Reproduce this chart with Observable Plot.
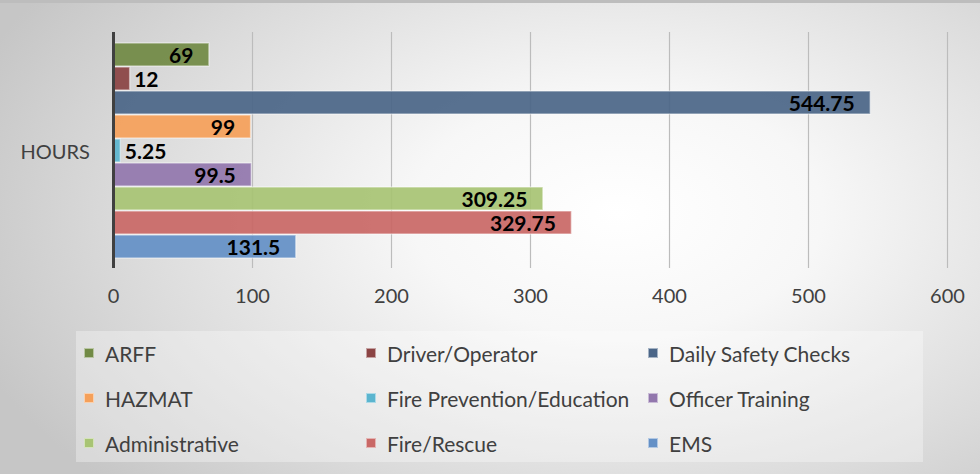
<!DOCTYPE html>
<html>
<head>
<meta charset="utf-8">
<script src="https://cdn.jsdelivr.net/npm/d3@7"></script>
<script src="https://cdn.jsdelivr.net/npm/@observablehq/plot@0.6"></script>
<style>
  html, body { margin: 0; padding: 0; }
  #wrap {
    position: relative; width: 980px; height: 474px; overflow: hidden;
    background: radial-gradient(ellipse 70% 85% at 63% 45%, #ffffff 0%, #f7f7f7 30%, #dcdcdc 70%, #c6c6c6 100%);
    font-family: Lato, sans-serif;
  }
  #topbar { position: absolute; left: 0; top: 0; width: 980px; height: 3px; background: #bdbdbd; }
  #chart { position: absolute; left: 0; top: 0; }
  #legend {
    position: absolute; left: 76px; top: 331px; width: 847px; height: 131px;
    background: rgba(255,255,255,0.32);
  }
  .item { position: absolute; display: flex; align-items: center; font-size: 21px; color: #404040; white-space: nowrap; }
  .sw { width: 10px; height: 10px; margin-right: 11px; box-sizing: border-box; border: 1px solid rgba(255,255,255,0.5); }
</style>
</head>
<body>
<div id="wrap"><div id="topbar"></div><div id="chart"></div><div id="legend"></div></div>
<script>
const categories = ["ARFF", "Driver/Operator", "Daily Safety Checks", "HAZMAT", "Fire Prevention/Education", "Officer Training", "Administrative", "Fire/Rescue", "EMS"];
const hours = [69, 12, 544.75, 99, 5.25, 99.5, 309.25, 329.75, 131.5];
const colors = ["#718a45", "#8b4444", "#4b6688", "#f5a05a", "#5bb5cf", "#9277ad", "#a8c474", "#c96866", "#6490c6"];
const xTicks = [0, 100, 200, 300, 400, 500, 600];
const groupLabel = "HOURS";

const data = categories.map((c, i) => ({category: c, value: hours[i]}));

const plot = Plot.plot({
  width: 980,
  height: 320,
  marginLeft: 113,
  marginRight: 33,
  marginTop: 32,
  marginBottom: 52,
  style: {background: "transparent", fontFamily: "Lato, sans-serif"},
  x: {domain: [0, 600], label: null},
  y: {domain: categories, insetTop: 7, insetBottom: 6, paddingInner: 0.06, paddingOuter: 0, axis: null},
  color: {domain: categories, range: colors},
  marks: [
    Plot.gridX(xTicks.slice(1), {stroke: "#bcbcbc", strokeOpacity: 1, strokeWidth: 1.2}),
    Plot.barX(data, {x: "value", y: "category", fill: "category", fillOpacity: 0.93, stroke: "#ffffff", strokeOpacity: 0.45, strokeWidth: 1.5}),
    Plot.text(data.filter(d => d.value >= 50), {x: "value", y: "category", text: d => String(d.value), textAnchor: "end", dx: -16, dy: 1, fontSize: 21, fontWeight: "bold", fill: "#000"}),
    Plot.text(data.filter(d => d.value < 50), {x: "value", y: "category", text: d => String(d.value), textAnchor: "start", dx: 4, dy: 1, fontSize: 21, fontWeight: "bold", fill: "#000"}),
    Plot.ruleX([0], {stroke: "#404040", strokeWidth: 3}),
    Plot.axisX(xTicks, {tickSize: 0, tickPadding: 20, fontSize: 20, fill: "#404040", label: null}),
    Plot.text([groupLabel], {frameAnchor: "left", dx: -93, dy: 2, textAnchor: "start", fontSize: 20, fill: "#404040"})
  ]
});
document.getElementById("chart").appendChild(plot);

const legend = document.getElementById("legend");
categories.forEach((c, i) => {
  const col = i % 3, row = Math.floor(i / 3);
  const el = document.createElement("div");
  el.className = "item";
  el.style.left = (8 + col * 282) + "px";
  el.style.top = (10 + row * 45) + "px";
  el.style.height = "24px";
  const sw = document.createElement("div");
  sw.className = "sw";
  sw.style.background = colors[i];
  const t = document.createElement("span");
  t.textContent = c;
  el.appendChild(sw); el.appendChild(t);
  legend.appendChild(el);
});
</script>
</body>
</html>
